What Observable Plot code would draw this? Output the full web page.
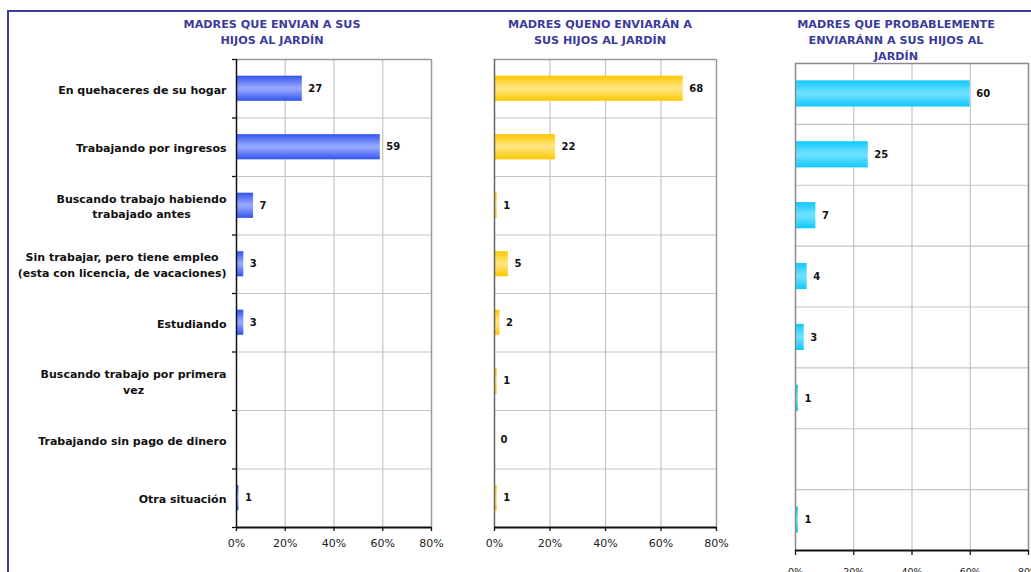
<!DOCTYPE html>
<html><head><meta charset="utf-8">
<script src="https://cdn.jsdelivr.net/npm/d3@7"></script>
<script src="https://cdn.jsdelivr.net/npm/@observablehq/plot@0.6"></script>
<style>
body{margin:0;background:#fff;}
#wrap{position:relative;width:1031px;height:572px;overflow:hidden;background:#fff;font-family:"DejaVu Sans",sans-serif;}
#border{position:absolute;left:7px;top:10px;width:1100px;height:700px;border-left:2px solid #3b3b9b;border-top:2px solid #3b3b9b;}
.ttl{position:absolute;color:#3b3b9b;font-weight:bold;font-size:11.2px;line-height:15.8px;text-align:center;white-space:pre;}
.pn{position:absolute;top:0;}
</style></head>
<body><div id="wrap"><div id="border"></div></div>
<script>
const categories = [
  "En quehaceres de su hogar",
  "Trabajando por ingresos",
  "Buscando trabajo habiendo\ntrabajado antes",
  "Sin trabajar, pero tiene empleo\n(esta con licencia, de vacaciones)",
  "Estudiando",
  "Buscando trabajo por primera\nvez",
  "Trabajando sin pago de dinero",
  "Otra situación"
];
const seriesEnvian = [27, 59, 7, 3, 3, null, null, 1];
const seriesNoEnviaran = [68, 22, 1, 5, 2, 1, 0, 1];
const seriesProbable = [60, 25, 7, 4, 3, 1, null, 1];
const titles = [
  "MADRES QUE ENVIAN A SUS\nHIJOS AL JARDÍN",
  "MADRES QUENO ENVIARÁN A\nSUS HIJOS AL JARDÍN",
  "MADRES QUE PROBABLEMENTE\nENVIARÁNN A SUS HIJOS AL\nJARDÍN"
];
const xTicks = [0, 20, 40, 60, 80];

const wrap = document.getElementById("wrap");
const cv = document.createElement("canvas").getContext("2d");
cv.font = "bold 11px 'DejaVu Sans'";
const measure = s => Math.max(...s.split("\n").map(l => cv.measureText(l).width));

function gradMark(id, edge, mid) {
  return () => {
    const ns = "http://www.w3.org/2000/svg";
    const defs = document.createElementNS(ns, "defs");
    const g = document.createElementNS(ns, "linearGradient");
    g.setAttribute("id", id); g.setAttribute("x1", "0"); g.setAttribute("x2", "0");
    g.setAttribute("y1", "0"); g.setAttribute("y2", "1");
    [[0, edge], [0.45, mid], [0.55, mid], [1, edge]].forEach(([o, c]) => {
      const s = document.createElementNS(ns, "stop");
      s.setAttribute("offset", o); s.setAttribute("stop-color", c);
      g.appendChild(s);
    });
    defs.appendChild(g);
    return defs;
  };
}

function panel(cfg) {
  const data = cfg.values.map((v, i) => ({i, v, c: categories[i]}));
  const bars = data.filter(d => d.v != null);
  const marks = [
    gradMark(cfg.id, cfg.edge, cfg.mid),
    Plot.ruleX([20, 40, 60], {stroke: "#c4c4c4", strokeWidth: 1.2}),
    Plot.ruleY(d3.range(1, 8), {stroke: "#c4c4c4", strokeWidth: 1.2}),
    Plot.ruleY([0], {stroke: cfg.frame, strokeWidth: 1.5}),
    Plot.ruleX([80], {stroke: cfg.frame, strokeWidth: 1.5}),
    Plot.rectX(bars, {x1: 0, x2: "v", y1: d => d.i + 0.285, y2: d => d.i + 0.715, fill: `url(#${cfg.id})`}),
    Plot.text(bars, {x: "v", y: d => d.i + 0.5, text: d => String(d.v), dx: 6, textAnchor: "start",
      fontWeight: "bold", fontSize: 10, fill: "#111"}),
    Plot.ruleX([0], {stroke: cfg.left, strokeWidth: 1.5}),
    Plot.ruleY([8], {stroke: "#111", strokeWidth: 1.8}),
    Plot.axisX({ticks: xTicks, tickSize: cfg.tickLen, tickPadding: cfg.tickPad, tickFormat: d => d + "%",
      label: null, fontSize: cfg.tickFont, stroke: "#111", strokeWidth: 1.3, fill: "#222"})
  ];
  if (cfg.labels) {
    marks.push(Plot.axisY({ticks: d3.range(0, 9), tickSize: 4, tickFormat: () => "", label: null, stroke: "#111", strokeWidth: 1.3}));
    categories.forEach((c, i) => {
      marks.push(Plot.text([c], {frameAnchor: "left", y: () => i + 0.5, text: d => d, textAnchor: "middle",
        lineAnchor: "middle", lineHeight: 1.4, dx: -(10 + measure(c) / 2), fontWeight: "bold", fontSize: 11, fill: "#111"}));
    });
  }
  const p = Plot.plot({
    width: cfg.width, height: 572,
    marginLeft: cfg.ml, marginRight: cfg.width - cfg.xr, marginTop: cfg.yt, marginBottom: 572 - cfg.yb,
    x: {domain: [0, 80], axis: null},
    y: {domain: [0, 8], reverse: true, axis: null},
    style: {fontFamily: "DejaVu Sans", fontSize: "11px", background: "transparent", overflow: "visible"},
    marks
  });
  p.classList.add("pn");
  p.style.left = cfg.left0 + "px";
  wrap.appendChild(p);
  const t = document.createElement("div");
  t.className = "ttl";
  t.textContent = cfg.title;
  t.style.width = "260px";
  t.style.left = (cfg.tc - 130) + "px";
  t.style.top = "17px";
  wrap.appendChild(t);
}

panel({id: "gBlue", edge: "#3153ef", mid: "#93a6ff", values: seriesEnvian, labels: true,
  left0: 0, width: 450, ml: 236, xr: 431, yt: 59, yb: 527, frame: "#9a9a9a", left: "#111",
  tickLen: 4, tickPad: 8, tickFont: 11, title: titles[0], tc: 272});
panel({id: "gYel", edge: "#fdc800", mid: "#ffe47c", values: seriesNoEnviaran, labels: false,
  left0: 460, width: 300, ml: 34, xr: 256, yt: 59, yb: 527, frame: "#9a9a9a", left: "#666",
  tickLen: 4, tickPad: 8, tickFont: 11, title: titles[1], tc: 600});
panel({id: "gCyan", edge: "#10c8fb", mid: "#6ae0ff", values: seriesProbable, labels: false,
  left0: 760, width: 290, ml: 35, xr: 268, yt: 63, yb: 550, frame: "#8a8a8a", left: "#8a8a8a",
  tickLen: 5, tickPad: 13, tickFont: 9.5, title: titles[2], tc: 896});
</script></body></html>
